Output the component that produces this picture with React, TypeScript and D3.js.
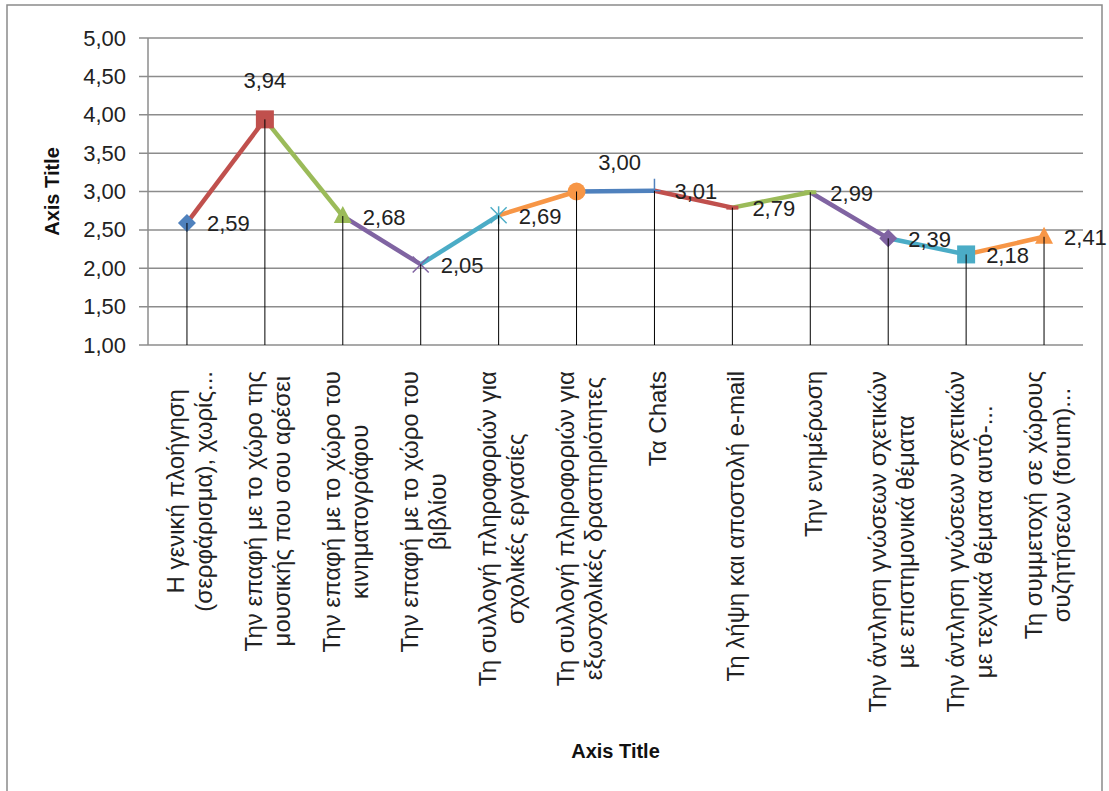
import React from "react";
import * as d3 from "d3";

const categoryLines: string[][] = [
  ["Η γενική πλοήγηση", "(σερφάρισμα), χωρίς..."],
  ["Την επαφή με το χώρο της", "μουσικής που σου αρέσει"],
  ["Την επαφή με το χώρο του", "κινηματογράφου"],
  ["Την επαφή με το χώρο του", "βιβλίου"],
  ["Τη συλλογή πληροφοριών για", "σχολικές εργασίες"],
  ["Τη συλλογή πληροφοριών για", "εξωσχολικές δραστηριότητες"],
  ["Τα Chats"],
  ["Τη λήψη και αποστολή e-mail"],
  ["Την ενημέρωση"],
  ["Την άντληση γνώσεων σχετικών", "με επιστημονικά θέματα"],
  ["Την άντληση γνώσεων σχετικών", "με τεχνικά θέματα αυτό-..."],
  ["Τη συμμετοχή σε χώρους", "συζητήσεων (forum)..."],
];

const values: number[] = [2.59, 3.94, 2.68, 2.05, 2.69, 3.0, 3.01, 2.79, 2.99, 2.39, 2.18, 2.41];

const markerTypes: string[] = [
  "diamond", "square", "triangle", "x", "star", "circle",
  "plus", "dash", "dash", "diamond", "square", "triangle",
];

const labelPlacement: string[] = [
  "right", "above", "right", "right", "right", "aboveRight",
  "right", "right", "right", "right", "right", "right",
];

const palette: string[] = ["#4F81BD", "#C0504D", "#9BBB59", "#8064A2", "#4BACC6", "#F79646"];

const yDomain: [number, number] = [1, 5];
const axisTitleY = "Axis Title";
const axisTitleX = "Axis Title";

const W = 1109;
const H = 791;
const plot = { left: 148, right: 1083, top: 38, bottom: 345 };

const locale = d3.formatLocale({ decimal: ",", thousands: ".", grouping: [3], currency: ["", "€"] });
const fmt = locale.format(".2f");

const FONT = "'Liberation Sans', Arial, sans-serif";
const catFontSize = 24;

let ctx: CanvasRenderingContext2D | null = null;
function measure(text: string, font: string): number {
  if (!ctx) {
    const c = document.createElement("canvas");
    ctx = c.getContext("2d");
  }
  if (!ctx) return text.length * 10;
  ctx.font = font;
  return ctx.measureText(text).width;
}

function Marker({ type, cx, cy, color }: { type: string; cx: number; cy: number; color: string }) {
  const s = 9;
  switch (type) {
    case "diamond":
      return <path d={`M${cx},${cy - s} L${cx + s},${cy} L${cx},${cy + s} L${cx - s},${cy} Z`} fill={color} />;
    case "square":
      return <rect x={cx - s} y={cy - s} width={2 * s} height={2 * s} fill={color} />;
    case "triangle":
      return <path d={`M${cx},${cy - s - 1} L${cx + s},${cy + s - 2} L${cx - s},${cy + s - 2} Z`} fill={color} />;
    case "x":
      return (
        <g stroke={color} strokeWidth={1.5}>
          <line x1={cx - 8} y1={cy - 8} x2={cx + 8} y2={cy + 8} />
          <line x1={cx - 8} y1={cy + 8} x2={cx + 8} y2={cy - 8} />
        </g>
      );
    case "star":
      return (
        <g stroke={color} strokeWidth={1.5}>
          <line x1={cx - 8} y1={cy - 8} x2={cx + 8} y2={cy + 8} />
          <line x1={cx - 8} y1={cy + 8} x2={cx + 8} y2={cy - 8} />
          <line x1={cx} y1={cy - 9} x2={cx} y2={cy + 9} />
        </g>
      );
    case "circle":
      return <circle cx={cx} cy={cy} r={s} fill={color} />;
    case "plus":
      return (
        <g stroke={color} strokeWidth={1.5}>
          <line x1={cx} y1={cy - 12} x2={cx} y2={cy} />
          <line x1={cx - 6} y1={cy} x2={cx + 6} y2={cy} />
        </g>
      );
    case "dash":
      return <rect x={cx - 6} y={cy - 2} width={12} height={4} fill={color} />;
    default:
      return null;
  }
}

export default function App() {
  const idx = values.map((_, i) => i);
  const x = d3.scaleBand<number>().domain(idx).range([plot.left, plot.right]);
  const cxOf = (i: number) => (x(i) ?? 0) + x.bandwidth() / 2;
  const y = d3.scaleLinear().domain(yDomain).range([plot.bottom, plot.top]);
  const yTicks = y.ticks(8);
  const colorOf = (i: number) => palette[i % palette.length];
  const catFont = `${catFontSize}px ${FONT}`;

  return (
    <svg
      width={W}
      height={H}
      viewBox={`0 0 ${W} ${H}`}
      style={{ position: "absolute", left: 0, top: 0, background: "#fff" }}
    >
      <rect x={0} y={0} width={W} height={H} fill="#fff" />
      <rect x={7} y={5} width={1095} height={H + 20} fill="none" stroke="#8a8a8a" strokeWidth={1.5} />

      {/* gridlines and y ticks */}
      {yTicks.map((t) => (
        <g key={t}>
          <line x1={plot.left - 9} x2={plot.right} y1={y(t)} y2={y(t)} stroke="#8c8c8c" strokeWidth={1.5} />
          <text
            x={126}
            y={y(t)}
            textAnchor="end"
            dominantBaseline="central"
            fontFamily={FONT}
            fontSize={22}
            fill="#222"
          >
            {fmt(t)}
          </text>
        </g>
      ))}
      <line x1={plot.left} x2={plot.left} y1={plot.top} y2={plot.bottom} stroke="#8c8c8c" strokeWidth={1.5} />

      {/* series segments */}
      {idx.slice(1).map((i) => (
        <line
          key={`seg${i}`}
          x1={cxOf(i - 1)}
          y1={y(values[i - 1])}
          x2={cxOf(i)}
          y2={y(values[i])}
          stroke={colorOf(i)}
          strokeWidth={4.5}
          strokeLinecap="butt"
        />
      ))}

      {/* markers */}
      {idx.map((i) => (
        <Marker key={`m${i}`} type={markerTypes[i]} cx={cxOf(i)} cy={y(values[i])} color={colorOf(i)} />
      ))}

      {/* drop lines */}
      {idx.map((i) => (
        <line
          key={`d${i}`}
          x1={cxOf(i)}
          x2={cxOf(i)}
          y1={y(values[i])}
          y2={plot.bottom}
          stroke="#000"
          strokeWidth={1}
        />
      ))}

      {/* data labels */}
      {idx.map((i) => {
        const px = cxOf(i);
        const py = y(values[i]);
        const p = labelPlacement[i];
        let lx = px + 20;
        let ly = py + 1;
        let anchor: "start" | "middle" = "start";
        if (p === "above") {
          lx = px;
          ly = py - 39;
          anchor = "middle";
        } else if (p === "aboveRight") {
          lx = px + 43;
          ly = py - 29;
          anchor = "middle";
        }
        return (
          <text
            key={`l${i}`}
            x={lx}
            y={ly}
            textAnchor={anchor}
            dominantBaseline="central"
            fontFamily={FONT}
            fontSize={22}
            fill="#222"
          >
            {fmt(values[i])}
          </text>
        );
      })}

      {/* category labels */}
      {idx.map((i) => {
        const lines = categoryLines[i];
        const maxLen = d3.max(lines, (l) => measure(l, catFont)) ?? 0;
        const top = 371;
        const centerY = top + maxLen / 2;
        const cx = cxOf(i) + 3;
        const spacing = 28;
        return (
          <g key={`c${i}`}>
            {lines.map((l, k) => {
              const lxc = cx + (k - (lines.length - 1) / 2) * spacing;
              return (
                <text
                  key={k}
                  transform={`translate(${lxc},${centerY}) rotate(-90)`}
                  textAnchor="middle"
                  dominantBaseline="central"
                  fontFamily={FONT}
                  fontSize={catFontSize}
                  fill="#222"
                >
                  {l}
                </text>
              );
            })}
          </g>
        );
      })}

      {/* axis titles */}
      <text
        transform={`translate(52,${(plot.top + plot.bottom) / 2}) rotate(-90)`}
        textAnchor="middle"
        dominantBaseline="central"
        fontFamily={FONT}
        fontWeight="bold"
        fontSize={20}
        fill="#111"
      >
        {axisTitleY}
      </text>
      <text
        x={(plot.left + plot.right) / 2}
        y={751}
        textAnchor="middle"
        dominantBaseline="central"
        fontFamily={FONT}
        fontWeight="bold"
        fontSize={20}
        fill="#111"
      >
        {axisTitleX}
      </text>
    </svg>
  );
}
